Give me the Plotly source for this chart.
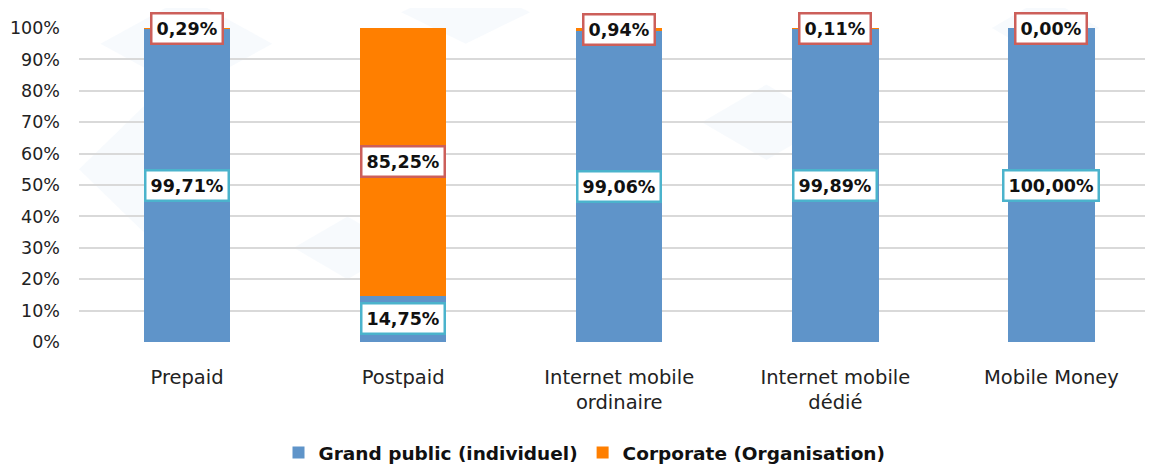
import plotly.graph_objects as go

categories = ["Prepaid", "Postpaid", "Internet mobile<br>ordinaire", "Internet mobile<br>dédié", "Mobile Money"]
grand_public = [99.71, 14.75, 99.06, 99.89, 100.00]
corporate = [0.29, 85.25, 0.94, 0.11, 0.00]
series_names = ["Grand public (individuel)", "Corporate (Organisation)"]
y_ticks = [0, 10, 20, 30, 40, 50, 60, 70, 80, 90, 100]

BLUE = "#5F94C9"
ORANGE = "#FF7F00"
FONT = "DejaVu Sans"

def fmt(v):
    return f"{v:.2f}".replace(".", ",") + "%"

fig = go.Figure()
xs = list(range(len(categories)))
fig.add_trace(go.Bar(x=xs, y=grand_public, name="<b>" + series_names[0] + "</b>", marker_color=BLUE,
                     width=0.4, marker_line_width=0))
fig.add_trace(go.Bar(x=xs, y=corporate, name="<b>" + series_names[1] + "</b>", marker_color=ORANGE,
                     width=0.4, marker_line_width=0))

for i in xs:
    g = grand_public[i]
    c = corporate[i]
    fig.add_annotation(x=i, y=g / 2, text="<b>" + fmt(g) + "</b>", showarrow=False,
                       font=dict(family=FONT, size=17.5, color="#111111"),
                       bgcolor="white", bordercolor="#4BB3CC", borderwidth=2.5, borderpad=4)
    fig.add_annotation(x=i, y=g + c / 2, text="<b>" + fmt(c) + "</b>", showarrow=False,
                       font=dict(family=FONT, size=17.5, color="#111111"),
                       bgcolor="white", bordercolor="#CC5F5A", borderwidth=2.5, borderpad=4)

# faint decorative background shapes
bg_shapes = [
    [(0.00, 0.55), (0.06, 0.75), (0.12, 0.55), (0.06, 0.35)],
    [(0.02, 0.95), (0.10, 1.10), (0.18, 0.95), (0.10, 0.80)],
    [(0.30, 1.05), (0.36, 1.15), (0.42, 1.05), (0.36, 0.95)],
    [(0.58, 0.70), (0.64, 0.82), (0.70, 0.70), (0.64, 0.58)],
    [(0.85, 1.00), (0.90, 1.10), (0.95, 1.00), (0.90, 0.90)],
    [(0.20, 0.30), (0.25, 0.40), (0.30, 0.30), (0.25, 0.20)],
]
for pts in bg_shapes:
    path = "M " + " L ".join(f"{x},{y}" for x, y in pts) + " Z"
    fig.add_shape(type="path", path=path, xref="paper", yref="paper",
                  fillcolor="#EEF4FA", opacity=0.45, line_width=0, layer="below")

fig.update_layout(
    barmode="stack",
    width=1153, height=464,
    margin=dict(l=71, r=8, t=20, b=130),
    paper_bgcolor="white", plot_bgcolor="rgba(0,0,0,0)",
    font=dict(family=FONT, size=17, color="#222222"),
    legend=dict(orientation="h", x=0.5, xanchor="center", xref="container",
                y=0.041, yanchor="middle", yref="container",
                font=dict(family=FONT, size=18.5, color="#111111"),
                traceorder="normal", itemwidth=30),
    bargap=0.6,
)
fig.update_xaxes(tickmode="array", tickvals=xs, ticktext=categories, automargin=False,
                 range=[-0.5, 4.47], showgrid=False, zeroline=False, showline=False,
                 tickfont=dict(family=FONT, size=19.5, color="#222222"), ticks="",
                 ticklabelstandoff=21)
fig.update_yaxes(range=[0, 100], tickmode="array", tickvals=y_ticks, automargin=False,
                 ticktext=[f"{v}%" for v in y_ticks], showgrid=True, gridcolor="#D9D9D9",
                 gridwidth=1.5, zeroline=False, showline=False, ticks="",
                 tickfont=dict(family=FONT, size=17.5, color="#222222"), ticklabelstandoff=18)

fig.write_html("out.html")
